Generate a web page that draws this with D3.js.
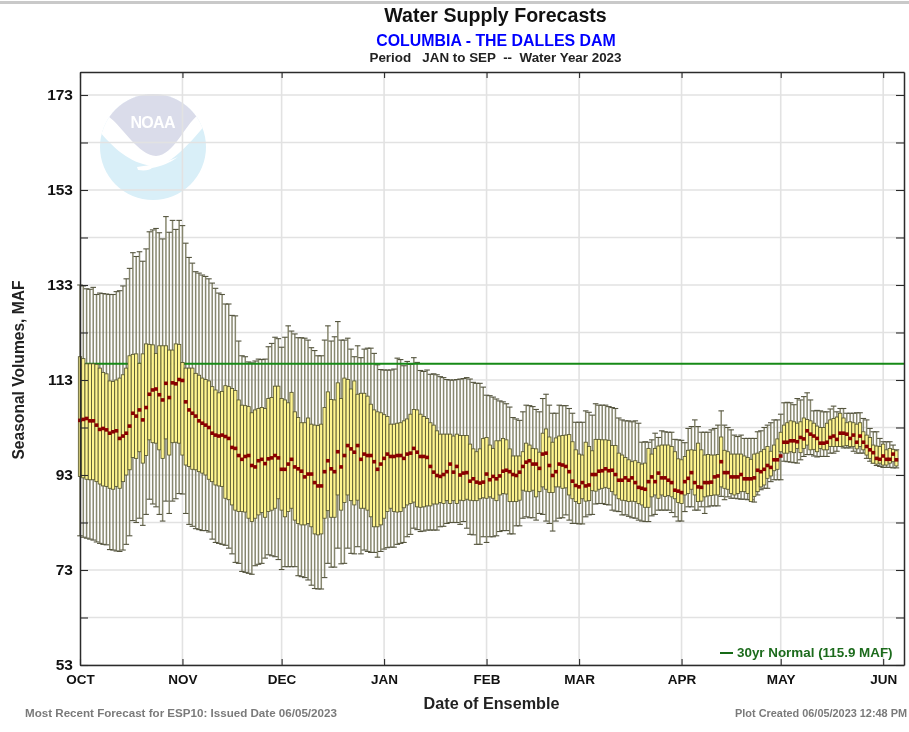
<!DOCTYPE html>
<html>
<head>
<meta charset="utf-8">
<script src="https://cdn.jsdelivr.net/npm/d3@7"></script>
<style>
  html, body { margin: 0; padding: 0; background: #fff; overflow: hidden; }
  svg { display: block; font-family: "Liberation Sans", Arial, sans-serif; filter: blur(0.35px); }
</style>
</head>
<body>
<svg id="chart" width="909" height="732"></svg>
<script>
// Seasonal volumes, MAF, one value per day from Oct 1 to Jun 5 (one line per month)
const upperWhisker = [
  133,132.8,132.2,132.1,132.5,131,131.3,131.2,131.1,131,131,131.6,131.8,132.8,134.3,136.5,139.8,139,140,138,140.6,144.2,144.6,144.9,144,142.7,147.4,144.1,146.6,144.7,146.6,
  145.5,141.8,138.8,137.6,135.8,135.5,135.1,134.8,134.3,133.4,132.3,131.3,131,129,129,126.6,126.5,121.2,118.1,117.9,116.8,116.6,117,117.4,117.3,117.4,120,120.7,122,121.7,
  119.9,122,124.4,123.3,122.7,121.9,121.9,121.8,121.4,119.8,119.2,118.1,118.1,121.4,124.4,121.2,122.1,125.3,121.4,121.4,121.8,119.5,117.9,120.2,117.7,119.5,119.7,119.7,118.6,116.2,115.2,
  115.1,115.1,115.1,115.3,117.6,117.3,116,116.9,116.3,117.7,116.7,115,114.8,115.1,114.2,114.3,114.1,113.7,113.5,113.1,113,113,113.1,113.2,113.3,113.5,113.2,112.5,112.3,112.3,111.5,
  109.8,109.7,109.4,109,108.6,108.4,108,107.3,105.1,104.8,104.5,106.3,107.7,107.6,107.4,106.8,106.3,109.1,110,107.7,106,106,107.7,107.6,107.6,107,106,104.1,
  104.1,104.1,106.5,106.2,105.6,108,107.7,107.7,107.7,107.4,107.2,107,105,104.6,104.4,104.4,104.2,104.4,103.9,99.9,100,99.9,100.4,101.8,100.9,102.3,102.1,102,102,100.5,100.4,
  100.3,99.8,102.8,103.2,104.6,103.2,102,102,102,102.5,102.8,103.5,106.5,103.5,103,102.5,101.4,101.1,101.4,100.7,100.7,100.7,100.7,102.1,102.3,103,103.5,104,104.6,104.6,
  105.8,108.2,108.3,108.2,107.8,109.1,108.8,109.5,110.3,108.8,106.5,106.6,106.5,106.3,106.3,106.9,107.5,106.3,107,107,106,106,106,106.1,106.1,104.9,104.6,102.8,102.1,102.1,100.7,
  100,100,100,99.3,98.3
];
const upperBox = [
  117.9,117.5,116.4,116.4,116.4,116.3,115.5,114.6,114.3,112.8,112.7,113,113.4,114.1,115.5,118.1,118.4,118.5,116.5,118.5,120.6,120.5,120.4,118.6,120.2,120.2,120.2,119.3,119.3,120.6,120.5,
  116.7,115.5,115.5,115.5,114.4,114,113.4,113.1,112.8,111.6,110.9,110.3,110.6,111.8,111.6,111.2,110.8,108.8,107.7,107.6,107.4,106.1,106.7,107,107.2,107,109.1,109.3,111.7,111.7,
  109.1,108.8,108.2,110.4,106.3,105.1,104,104,105,103.7,103.5,103.4,103.7,107.2,110.5,108.9,108.8,112.4,109.1,113.4,113.1,111.1,112.8,110,110.2,110.2,109.6,107.9,106.7,106.3,106.1,
  105.7,105.3,103.7,103.7,103.9,104,104.4,104.8,105.8,106.8,106.7,105.8,105.3,104.9,104,103.5,102.3,101.6,101.6,101.6,101.6,101.2,101.6,101.3,101.3,101.3,99.5,98.5,97.9,98.5,100.7,
  100.9,99.3,98.6,100.2,100.2,100.7,100.4,98.5,97,97,97,97.9,99.7,99.3,98.6,98.5,97.8,101.8,102.7,101,99.9,100.8,101.2,101.3,101.4,101.5,100,98.3,
  97.4,97.2,99.9,99,98.1,100.5,100.5,100.4,100.4,100.3,99.2,99.2,97.6,97.2,96.7,96.2,95.8,96,95.6,95.3,95.5,98.6,97.4,98.6,99.1,99.3,99.3,99.3,99,97.9,96.4,
  96.2,96.9,98.2,98.3,98.2,99.7,98.3,97.2,97.3,97.2,97.2,97.3,101,98.2,97.9,97.4,97.4,97.4,97.4,97,96.7,96.3,97.4,97.6,97.9,98.4,99,98,99.3,100.6,
  102,103.5,104,104.4,104.2,103.9,104.2,105,104.7,104.4,103.9,103.3,103,103,103.9,104.6,104.9,105.2,106,105,104,104.2,104,103.7,104,102.1,101.4,100.9,99.3,99.1,99,
  99.5,98.3,98.6,98.4,98.1
];
const medianVolume = [
  104.5,104.7,104.9,104.4,104.4,103.5,102.6,102.8,102.5,101.8,102.1,102.3,100.7,101.2,101.8,103.3,106,105.4,106.7,104.6,107.2,110,110.9,111.1,109.9,108.8,112.3,109.3,112.4,112.2,113.1,
  112.9,108.4,106.7,106,105.4,104.4,103.9,103.5,103,101.8,101.4,101.2,101.4,101.1,100.7,98.8,98.6,97.1,96.3,96.9,97.1,95,94.7,96,96.3,95.4,96.4,96.6,97.1,96.6,
  94.2,94.2,95.3,96.3,94.7,94.3,93.8,92.6,93.2,93.2,91.4,90.7,90.7,93.7,96,94.3,93.7,97.9,94.7,97.1,99.2,98.5,97.8,99.2,96.3,97.4,97.1,97.1,95.8,94.2,95.3,
  96.5,97.4,96.9,96.9,97.1,97.1,96.5,97.4,97.6,98.6,97.8,96.9,96.9,96.7,94.8,93.6,92.9,92.7,93.1,93.7,95.3,93.6,94.8,93,93.4,93.5,91.7,92.2,91.5,91.3,91.5,
  93.2,92,92.7,92.2,92.8,93.8,94,93.7,93.1,92.9,93.6,94.8,95.7,96,95.3,95.3,94.4,97.4,97.6,95,92.9,93.7,95.3,95.1,94.8,93.7,91.7,90.8,
  90.5,91.4,90.7,90.9,93.1,93.1,93.8,93.9,94.3,93.9,94,93.1,91.9,91.9,92.4,91.9,92.4,91.4,90.4,90.2,90,91.6,92.6,91.6,93.4,92.4,92.4,91.9,91.4,89.8,89.6,
  89.3,91.6,92.3,93.5,91.4,90.5,90.4,91.4,91.4,91.5,92.6,92.8,95.8,93.5,93.5,92.6,92.6,92.6,93.1,92.2,92.2,92.2,92.4,94,93.7,94.2,95,94.6,96.2,96.2,
  97,99.9,99.9,100.2,100.2,100,100.9,100.6,102.3,101.6,101.2,100.7,99.7,99.7,99.9,100.9,101.2,100.5,101.8,101.8,101.6,100.7,101.4,99.9,101.2,99.9,99,98.3,97.7,96.5,96.3,
  97,96.3,96.3,97.4,96.2
];
const lowerBox = [
  92.7,92.4,92.1,92,92,91.6,91.1,90.7,90.6,90.2,90,90.6,90.2,91.6,93,94.1,96.7,96.5,97.9,95.5,97.1,100.4,99.8,99.7,98.3,96.5,100.6,97.2,99.8,99.9,99.7,
  97.2,95.1,94.8,94.2,94.1,93.7,93.4,93,92.1,91.6,90.9,90.7,90.6,88.1,87.8,86.7,85.6,85.3,85.3,85.2,83.9,83.2,83.9,84.6,85.1,84.1,85.3,85.6,86,88,
  85.6,84.2,85.3,86,83.5,82.8,82.5,82.5,82.8,82.1,80.6,80.4,80.6,83.9,85.5,84.1,84.1,88.8,85.6,87.2,88.8,87.6,86.7,87.7,86,86,85.6,84.2,82.1,82.1,82.5,
  83.9,85.3,86,85.3,85.2,85.3,86.1,86.7,87,87.3,86.3,86.2,86.3,86.5,86.5,86.9,86.9,87.2,87,87.6,87,87.6,87,87.7,87.6,87.9,87.7,87.6,87.6,88,88.2,
  88.1,88.4,88.1,87.6,88.8,89.1,89,87.4,87.4,87.4,87.7,89.8,89.6,89.5,89.8,88.4,89.5,90.5,90,89.3,89.3,90.5,90.5,90.2,90.3,88.8,88,87.4,
  87,88,87.5,87.6,89.7,89.6,90,90.2,90.4,90.2,89.5,88.8,88,87.7,87.6,87.4,87.5,87.4,87,86.7,86.2,86.2,88.4,88.8,88.1,88.8,88.5,88.7,88.4,88,87.2,
  87,88.8,89.1,90,88.8,87.4,87.5,88.4,88.6,88.7,88.8,88.8,90.5,90.2,90,89.1,88.8,89.1,89.5,89.5,89.1,87.4,88.5,89.5,90.5,90.9,92.3,92.8,93.9,94.2,
  97.9,97.6,97.6,97.9,97.7,98.6,97.7,98.6,99.3,98.3,98.4,97.9,98.6,98.3,98.3,99,99,99,99,99.1,99.2,99,99,98.5,99,98.3,97.2,96.5,95.5,95.3,95.5,
  95.1,95.1,95.5,95.8,94.9
];
const lowerWhisker = [
  80.2,79.9,79.7,79.5,79.3,78.9,78.6,78.4,78.3,77.3,77.2,77,76.9,77.2,78.4,80.2,83.4,83,83.9,82.4,84.7,87.9,86.9,86.3,84.7,83.3,87.5,84.9,87.5,88,89.1,
  89,84.9,82.6,82.2,81.7,81.5,81.3,81.3,81,79.5,78.8,78.6,78.4,78.2,77.6,76.4,74.6,74.4,72.7,72.5,72.3,72.1,73.9,74.2,74.4,75.5,76.2,76,75.8,75.2,
  73.1,73.7,73.7,73.7,73.7,71.8,71.6,71.4,70.9,69.8,69.1,69,69,71.4,74.4,73.6,73.6,77.6,74.3,74.4,77.6,76.5,76.4,77.9,76.4,77.2,76.9,76.7,76.7,75.7,76.9,
  77.4,77.7,77.8,77.8,78.4,78.6,78.8,80,80.5,81.8,81.5,81.1,81.2,81.4,81.4,81.4,81.4,82.1,82.2,82.8,83,83,83,82.6,83.2,81.8,80.5,80.4,78.4,78.4,80,
  78.8,80,80,80.2,81.1,81.3,81.3,80.6,80.6,82.3,82.3,83.9,84.2,84,84,83.5,84.9,84.7,83.3,82.8,81.2,83.3,83.9,84,84.6,83.5,82.8,82.8,
  82.7,82.7,84.2,84.6,84.7,86.9,87,87,86.8,86.7,85.6,85.4,85.3,84.6,84.6,84.3,84,83.9,83.5,83.3,83.2,83.2,84.4,84.7,85.6,85.6,85.6,85.6,85.1,84.2,83.3,
  83.3,85.3,86.3,86.3,85.6,85.6,86.3,84.9,86.3,86.5,86.5,86.5,88.5,87.8,88.4,88.1,88.1,88,87.9,87.9,87.8,87.8,87.3,88.8,89.9,90.2,90.2,91.6,92,92,
  92,95.9,95.8,95.7,95.6,95.5,96.2,96.9,97.3,97.3,97,96.8,96.9,96.9,96.9,97.6,97.6,98,99,98.7,98.7,98.7,98,97.6,97.6,97.6,96.5,95.9,95.5,95,94.8,
  94.6,94.6,94.6,94.5,94.5
];
// Where the green line sits on the picture's scale; the legend states 115.9
const normalVolume = 116.4;

const monthLabels = ["OCT", "NOV", "DEC", "JAN", "FEB", "MAR", "APR", "MAY", "JUN"];
const monthStartDays = [0, 31, 61, 92, 123, 151, 182, 212, 243];
const labelledTicks = [53, 73, 93, 113, 133, 153, 173];
const allTicks = [53, 63, 73, 83, 93, 103, 113, 123, 133, 143, 153, 163, 173];

const svg = d3.select("#chart");
const plotLeft = 80, plotRight = 904, plotTop = 72, plotBottom = 665;

const x = d3.scaleLinear().domain([0, 249.3]).range([plotLeft, plotRight]);
const y = d3.scaleLinear().domain([53, 177.84]).range([plotBottom, plotTop]);

// Band along the top of the page
svg.append("rect").attr("x", 0).attr("y", 1).attr("width", 909).attr("height", 3).attr("fill", "#c9c9c9");

// NOAA logo, behind the grid
const logo = svg.append("g");
logo.append("clipPath").attr("id", "logo-clip")
  .append("circle").attr("cx", 153).attr("cy", 147).attr("r", 53);
const logoBody = logo.append("g").attr("clip-path", "url(#logo-clip)");
logoBody.append("rect").attr("x", 100).attr("y", 94).attr("width", 106).attr("height", 106).attr("fill", "#d9eff8");
logoBody.append("path")
  .attr("d", "M98,130 C112,146 128,163 152,166 C168,167 186,148 206,124 L206,90 L98,90 Z")
  .attr("fill", "#ffffff");
logoBody.append("path")
  .attr("d", "M108,116 L108,90 L198,90 L198,115 C184,126 174,155 156,156 C138,155 124,128 108,116 Z")
  .attr("fill", "#dadcea");
logoBody.append("path")
  .attr("d", "M137,167 C150,165 166,163 178,157 C170,163 162,166 152,168 C150,170 145,171 138,170 Z")
  .attr("fill", "#ffffff");
logo.append("text").attr("x", 153).attr("y", 128).attr("text-anchor", "middle")
  .attr("font-size", 16).attr("font-weight", "bold").attr("fill", "#ffffff").attr("textLength", 45)
  .text("NOAA");

// Grid
const grid = svg.append("g").attr("stroke", "#e2e2e2").attr("stroke-width", 1.6);
grid.selectAll("line.h").data(allTicks).join("line").attr("class", "h")
  .attr("x1", plotLeft).attr("x2", plotRight)
  .attr("y1", d => y(d)).attr("y2", d => y(d));
grid.selectAll("line.v").data(monthStartDays.slice(1)).join("line").attr("class", "v")
  .attr("x1", d => x(d)).attr("x2", d => x(d))
  .attr("y1", plotTop).attr("y2", plotBottom);

const days = d3.range(upperWhisker.length);

// Whiskers and caps
svg.append("g").attr("stroke", "#87876f").attr("stroke-width", 1.5)
  .selectAll("line").data(days).join("line")
  .attr("x1", d => x(d)).attr("x2", d => x(d))
  .attr("y1", d => y(upperWhisker[d])).attr("y2", d => y(lowerWhisker[d]));
const caps = svg.append("g").attr("stroke", "#55553f").attr("stroke-width", 1.1);
caps.selectAll("line.hi").data(days).join("line").attr("class", "hi")
  .attr("x1", d => x(d) - 2.8).attr("x2", d => x(d) + 2.8)
  .attr("y1", d => y(upperWhisker[d])).attr("y2", d => y(upperWhisker[d]));
caps.selectAll("line.lo").data(days).join("line").attr("class", "lo")
  .attr("x1", d => x(d) - 2.8).attr("x2", d => x(d) + 2.8)
  .attr("y1", d => y(lowerWhisker[d])).attr("y2", d => y(lowerWhisker[d]));

// 30yr normal
svg.append("line")
  .attr("x1", plotLeft).attr("x2", plotRight)
  .attr("y1", y(normalVolume)).attr("y2", y(normalVolume))
  .attr("stroke", "#168a16").attr("stroke-width", 2);

// Boxes
svg.append("g").attr("fill", "#fff58f").attr("stroke", "#55552e").attr("stroke-width", 0.85)
  .selectAll("rect").data(days).join("rect")
  .attr("x", d => x(d) - 1.65)
  .attr("width", 3.3)
  .attr("y", d => y(upperBox[d]))
  .attr("height", d => y(lowerBox[d]) - y(upperBox[d]));

// Medians
svg.append("g").attr("fill", "#8b0000")
  .selectAll("rect").data(days).join("rect")
  .attr("x", d => x(d) - 1.9)
  .attr("y", d => y(medianVolume[d]) - 1.8)
  .attr("width", 3.8).attr("height", 3.6);

// Axes
function styleAxis(g) {
  g.select(".domain").attr("stroke", "#2b2b2b").attr("stroke-width", 1.5);
  g.selectAll("line").attr("stroke", "#2b2b2b").attr("stroke-width", 1.1);
  g.selectAll("text").attr("fill", "#111").attr("font-family", "Liberation Sans, Arial, sans-serif").attr("font-weight", "bold");
}
svg.append("g").attr("transform", `translate(${plotLeft},0)`)
  .call(d3.axisLeft(y).tickValues(allTicks).tickSize(-8).tickSizeOuter(0).tickPadding(7)
    .tickFormat(d => labelledTicks.includes(d) ? d : ""))
  .call(styleAxis)
  .call(g => g.selectAll("text").attr("font-size", 15.5));
svg.append("g").attr("transform", `translate(${plotRight},0)`)
  .call(d3.axisRight(y).tickValues(allTicks).tickSize(-8).tickSizeOuter(0).tickFormat(""))
  .call(styleAxis);
svg.append("g").attr("transform", `translate(0,${plotBottom})`)
  .call(d3.axisBottom(x).tickValues(monthStartDays).tickSize(-6).tickSizeOuter(0).tickPadding(9)
    .tickFormat((d, i) => monthLabels[i]))
  .call(styleAxis)
  .call(g => g.selectAll("text").attr("font-size", 13.5));
svg.append("g").attr("transform", `translate(0,${plotTop})`)
  .call(d3.axisTop(x).tickValues(monthStartDays).tickSize(-6).tickSizeOuter(0).tickFormat(""))
  .call(styleAxis);

// Titles
function label(px, py, txt, size, fill, anchor) {
  return svg.append("text").attr("x", px).attr("y", py)
    .attr("text-anchor", anchor || "middle")
    .attr("font-size", size).attr("font-weight", "bold").attr("fill", fill)
    .style("white-space", "pre")
    .text(txt);
}
label(495.5, 22, "Water Supply Forecasts", 19.6, "#111");
label(496, 45.5, "COLUMBIA - THE DALLES DAM", 15.9, "#0000ff");
label(495.5, 61.5, "Period   JAN to SEP  --  Water Year 2023", 13.4, "#222");
label(491.5, 709, "Date of Ensemble", 16.2, "#222");
label(19, 375, "Seasonal Volumes, MAF", 15.6, "#222").attr("transform", "rotate(-90 19 370)");
label(25, 717, "Most Recent Forecast for ESP10: Issued Date 06/05/2023", 11.6, "#7a7a7a", "start");
label(907, 717, "Plot Created 06/05/2023 12:48 PM", 10.9, "#7a7a7a", "end");

// Legend
svg.append("line").attr("x1", 720).attr("x2", 733).attr("y1", 653).attr("y2", 653)
  .attr("stroke", "#166a16").attr("stroke-width", 2);
label(737, 657, "30yr Normal (115.9 MAF)", 13.4, "#1c6b1c", "start");
</script>
</body>
</html>
